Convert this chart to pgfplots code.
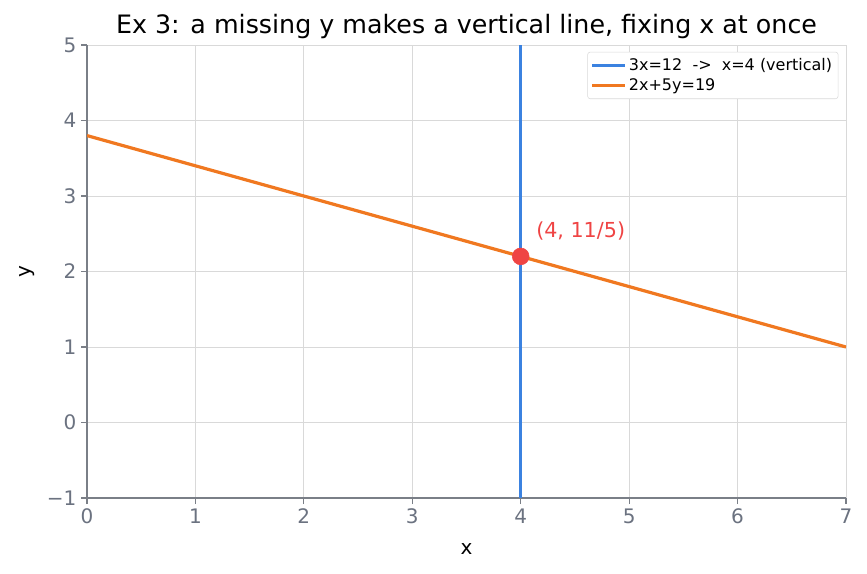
\documentclass[border=0pt]{standalone}
\usepackage{pgfplots}
\pgfplotsset{compat=1.18}
\usepackage{fontspec}
\setmainfont{DejaVu Sans}
\definecolor{cblue}{HTML}{3B82E0}
\definecolor{corange}{HTML}{F07820}
\definecolor{cred}{HTML}{EF4444}
\definecolor{caxis}{HTML}{7A7F87}
\definecolor{ctick}{HTML}{6B7280}
\definecolor{cgrid}{HTML}{D9D9D9}
\begin{document}
\begin{tikzpicture}
\path[use as bounding box] (-65.25pt,-56.25pt) rectangle (584.99pt,373.5pt);
\begin{axis}[
  scale only axis, width=569.25pt, height=339.75pt,
  xmin=0, xmax=7, ymin=-1, ymax=5,
  xtick={0,...,7}, ytick={-1,0,...,5},
  yticklabels={−1,0,1,2,3,4,5},
  grid=major, major grid style={cgrid, line width=0.6pt},
  axis line style={caxis, line width=0.9pt},
  tick style={caxis, line width=0.9pt},
  tick align=outside, major tick length=4.5pt,
  axis x line*=bottom, axis y line*=left,
  ticklabel style={font=\fontsize{15}{18}\selectfont, text=ctick},
  /pgf/number format/assume math mode=true,
  xlabel={x}, ylabel={y},
  xlabel style={yshift=-8pt},
  ylabel style={yshift=2pt},
  label style={font=\fontsize{15}{18}\selectfont},
  title={Ex 3: a missing y makes a vertical line, fixing x at once},
  title style={font=\fontsize{19}{22}\selectfont, yshift=-5pt},
  legend style={at={(0.99,0.985)}, anchor=north east, font=\fontsize{12}{14}\selectfont,
    draw=cgrid, rounded corners=2pt, inner sep=2.5pt, row sep=1pt},
  legend cell align=left,
  legend image code/.code={\draw[#1, line width=2.3pt] (0cm,0cm) -- (0.85cm,0cm);},
]
\addplot[cblue, line width=2.4pt] coordinates {(4,-1) (4,5)};
\addlegendentry{3x=12\ \ ->\ \ x=4 (vertical)}
\addplot[corange, line width=2.4pt] coordinates {(0,3.8) (7,1)};
\addlegendentry{2x+5y=19}
\addplot[only marks, mark=*, mark size=6.3pt, cred, forget plot] coordinates {(4,2.2)};
\node[anchor=west, text=cred, font=\fontsize{15.5}{18}\selectfont] at (axis cs:4.1,2.53) {(4, 11/5)};
\end{axis}
\end{tikzpicture}
\end{document}
